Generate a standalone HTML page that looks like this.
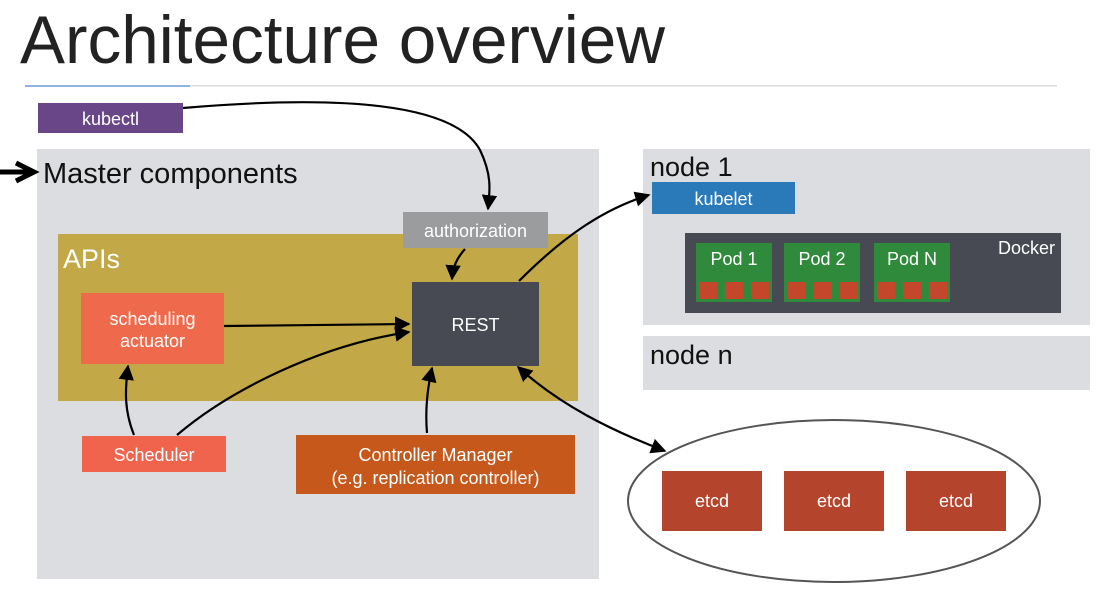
<!DOCTYPE html>
<html><head><meta charset="utf-8"><style>
html,body{margin:0;padding:0;background:#fff;width:1112px;height:591px;overflow:hidden}
text{font-family:"Liberation Sans",sans-serif}
</style></head><body>
<svg width="1112" height="591" viewBox="0 0 1112 591" xmlns="http://www.w3.org/2000/svg">
<defs>
<marker id="a" viewBox="0 0 10 10" refX="9" refY="5" markerWidth="7" markerHeight="7" orient="auto-start-reverse"><path d="M0,0 L10,5 L0,10 z" fill="#000"/></marker>
</defs>
<text x="20" y="63" font-size="68" fill="#222" style="font-weight:300" textLength="645" lengthAdjust="spacingAndGlyphs">Architecture overview</text>
<rect x="190" y="85" width="867" height="1.5" fill="#dcdcdc"/>
<rect x="25" y="85" width="165" height="2" fill="#8fb4e3"/>

<rect x="38" y="103" width="145" height="30" fill="#694687"/>
<text x="110.5" y="125" font-size="18" fill="#fff" text-anchor="middle">kubectl</text>

<rect x="37" y="149" width="562" height="430" fill="#dcdde0"/>
<text x="43" y="183" font-size="29" fill="#111">Master components</text>
<path d="M0,172 L32,172 M16,163 L34,172 L16,181" stroke="#000" stroke-width="5" fill="none"/>

<rect x="58" y="234" width="520" height="167" fill="#c3a847"/>
<text x="63" y="268" font-size="27" fill="#fff">APIs</text>

<rect x="403" y="212" width="145" height="36" fill="#9a9c9d"/>
<text x="475.5" y="237" font-size="18" fill="#fff" text-anchor="middle">authorization</text>

<rect x="412" y="282" width="127" height="84" fill="#474a53"/>
<text x="475.5" y="331" font-size="18" fill="#fff" text-anchor="middle">REST</text>

<rect x="81" y="293" width="143" height="71" fill="#ef6a4c"/>
<text x="152.5" y="325" font-size="18" fill="#fff" text-anchor="middle">scheduling</text>
<text x="152.5" y="347" font-size="18" fill="#fff" text-anchor="middle">actuator</text>

<rect x="82" y="436" width="144" height="36" fill="#f0634c"/>
<text x="154" y="461" font-size="18" fill="#fff" text-anchor="middle">Scheduler</text>

<rect x="296" y="435" width="279" height="59" fill="#c5581a"/>
<text x="435.5" y="461" font-size="18" fill="#fff" text-anchor="middle">Controller Manager</text>
<text x="435.5" y="484" font-size="18" fill="#fff" text-anchor="middle">(e.g. replication controller)</text>

<rect x="643" y="149" width="447" height="176" fill="#dcdde0"/>
<text x="650" y="176" font-size="27" fill="#111">node 1</text>
<rect x="652" y="182" width="143" height="32" fill="#2a7ab9"/>
<text x="723.5" y="205" font-size="18" fill="#fff" text-anchor="middle">kubelet</text>
<rect x="685" y="233" width="376" height="80" fill="#474a53"/>
<text x="1055" y="254" font-size="18" fill="#fff" text-anchor="end">Docker</text>
<g fill="#2f8a3c">
<rect x="696" y="243" width="76" height="59"/><rect x="784" y="243" width="76" height="59"/><rect x="874" y="243" width="76" height="59"/>
</g>
<g font-size="18" fill="#fff" text-anchor="middle">
<text x="734" y="265">Pod 1</text><text x="822" y="265">Pod 2</text><text x="912" y="265">Pod N</text>
</g>
<g fill="#c4472c">
<rect x="699" y="282" width="18" height="17"/><rect x="725" y="282" width="18" height="17"/><rect x="751" y="282" width="18" height="17"/>
<rect x="788" y="282" width="18" height="17"/><rect x="814" y="282" width="18" height="17"/><rect x="840" y="282" width="18" height="17"/>
<rect x="877" y="282" width="18" height="17"/><rect x="903" y="282" width="18" height="17"/><rect x="929" y="282" width="18" height="17"/>
</g>

<rect x="643" y="336" width="447" height="54" fill="#dcdde0"/>
<text x="650" y="364" font-size="27" fill="#111">node n</text>

<ellipse cx="834" cy="501" rx="206" ry="81" fill="none" stroke="#555" stroke-width="2"/>
<g fill="#b5442d">
<rect x="662" y="471" width="100" height="60"/><rect x="784" y="471" width="100" height="60"/><rect x="906" y="471" width="100" height="60"/>
</g>
<g font-size="18" fill="#fff" text-anchor="middle">
<text x="712" y="507">etcd</text><text x="834" y="507">etcd</text><text x="956" y="507">etcd</text>
</g>

<g fill="none" stroke="#000" stroke-width="2.2">
<path d="M183,108 C300,98 450,95 480,150 C492,175 490,190 488,209" marker-end="url(#a)"/>
<path d="M465,249 C457,258 453,266 452,279" marker-end="url(#a)"/>
<path d="M224,326 L409,324" marker-end="url(#a)"/>
<path d="M177,435 C230,390 320,345 409,332" marker-end="url(#a)"/>
<path d="M134,435 C124,410 125,390 128,366" marker-end="url(#a)"/>
<path d="M427,433 C425,410 427,390 432,368" marker-end="url(#a)"/>
<path d="M519,281 C560,240 600,210 649,195" marker-end="url(#a)"/>
<path d="M518,367 C560,405 610,430 665,451" marker-start="url(#a)" marker-end="url(#a)"/>
</g>
</svg>
</body></html>
